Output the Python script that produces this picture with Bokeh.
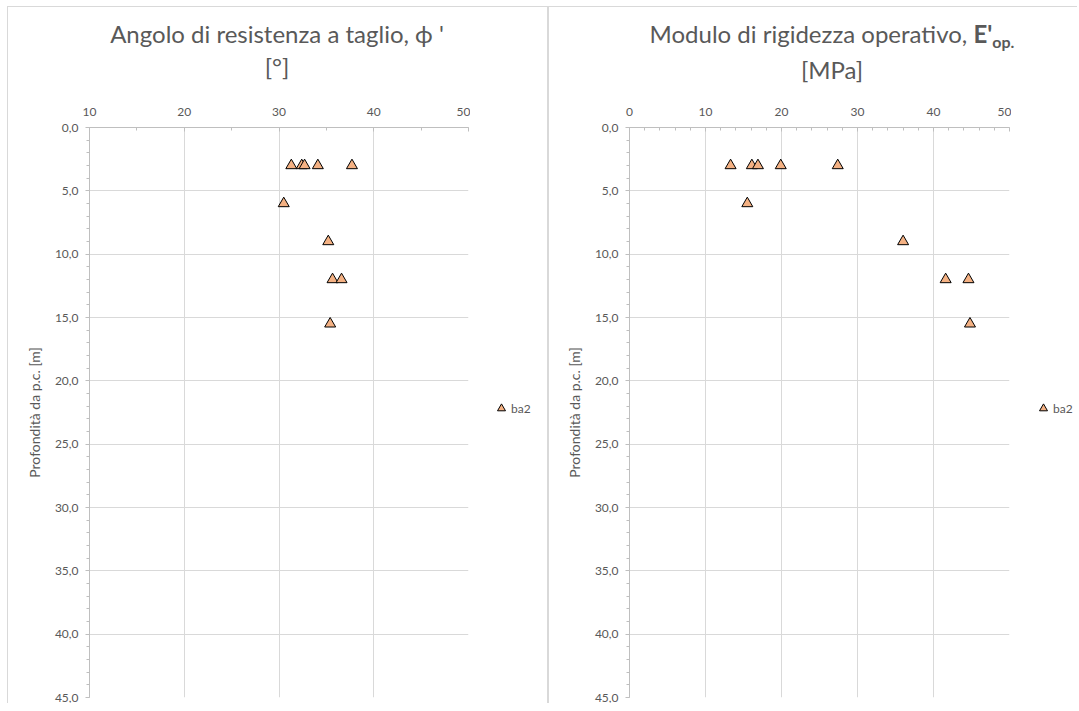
from bokeh.plotting import figure
from bokeh.models import Range1d, FixedTicker, Legend, LegendItem, ColumnDataSource, Div
from bokeh.layouts import row, column
from bokeh.embed import file_html
from bokeh.resources import INLINE

# ---------------- data ----------------
series_name = "ba2"
depth_phi = [3.0, 3.0, 3.0, 3.0, 3.0, 6.0, 9.0, 12.0, 12.0, 15.5]
phi_deg = [31.3, 32.4, 32.7, 34.1, 37.7, 30.5, 35.2, 35.65, 36.6, 35.4]
depth_E = [3.0, 3.0, 3.0, 3.0, 3.0, 6.0, 9.0, 12.0, 12.0, 15.5]
E_op = [13.3, 16.1, 16.9, 19.9, 27.4, 15.5, 36.0, 41.6, 44.6, 44.8]

y_ticks = [0, 5, 10, 15, 20, 25, 30, 35, 40, 45]
y_tick_labels = ["0,0", "5,0", "10,0", "15,0", "20,0", "25,0", "30,0", "35,0", "40,0", "45,0"]
y_minor = list(range(0, 46))
phi_ticks = [10, 20, 30, 40, 50]
phi_minor = [10, 15, 20, 25, 30, 35, 40, 45, 50]
E_ticks = [0, 10, 20, 30, 40, 50]
E_minor = list(range(0, 51, 2))

title_left = "Angolo di resistenza a taglio, \u03d5 '"
title_left_2 = "[\u00b0]"
title_right = "Modulo di rigidezza operativo, "
title_right_bold = "E'"
title_right_sub = "op."
title_right_2 = "[MPa]"
y_label = "Profondit\u00e0 da p.c. [m]"

FONT = "Lato"
TXT = "#595959"
AX = "#bfbfbf"
GRID = "#d9d9d9"
FILL = "#F4B183"
BORDER = "1px solid #d9d9d9"

TITLE_H = 84
CHART_H = 612


def make_chart(width, xr, ticks, minor, mbl, src):
    p = figure(width=width, height=CHART_H, x_range=Range1d(*xr), y_range=Range1d(45, 0),
               x_axis_location="above", toolbar_location=None, output_backend="svg",
               min_border_left=mbl, min_border_right=2, min_border_top=36,
               min_border_bottom=6, title=None)
    p.outline_line_color = None
    p.background_fill_color = "white"
    p.border_fill_color = "white"
    xa = p.xaxis[0]
    xa.ticker = FixedTicker(ticks=ticks, minor_ticks=minor)
    xa.axis_line_color = AX
    xa.major_tick_line_color = AX
    xa.minor_tick_line_color = AX
    xa.major_tick_in = 4
    xa.major_tick_out = 0
    xa.minor_tick_in = 3
    xa.minor_tick_out = 0
    xa.major_label_standoff = 12
    xa.major_label_text_font = FONT
    xa.major_label_text_font_size = "12px"
    xa.major_label_text_color = TXT
    ya = p.yaxis[0]
    ya.ticker = FixedTicker(ticks=y_ticks, minor_ticks=y_minor)
    ya.major_label_overrides = {t: l for t, l in zip(y_ticks, y_tick_labels)}
    ya.axis_line_color = AX
    ya.major_tick_line_color = AX
    ya.minor_tick_line_color = AX
    ya.major_tick_in = 0
    ya.major_tick_out = 4
    ya.minor_tick_in = 0
    ya.minor_tick_out = 3
    ya.major_label_standoff = 7
    ya.major_label_text_font = FONT
    ya.major_label_text_font_size = "12px"
    ya.major_label_text_color = TXT
    ya.axis_label = y_label
    ya.axis_label_text_font = FONT
    ya.axis_label_text_font_size = "14px"
    ya.axis_label_text_font_style = "normal"
    ya.axis_label_text_color = TXT
    ya.axis_label_standoff = 9
    p.xgrid.grid_line_color = GRID
    p.ygrid.grid_line_color = GRID
    p.scatter("x", "y", source=src, marker="triangle", size=11, fill_color=FILL,
              line_color="black", line_width=1)
    return p


def make_legend(width, x_off, src):
    # separate strip to the right of the plot area holding the series legend
    lf = figure(width=width, height=CHART_H, x_range=Range1d(-2, -1), y_range=Range1d(-2, -1),
                x_axis_type=None, y_axis_type=None, toolbar_location=None, output_backend="svg",
                min_border=0, title=None)
    lf.outline_line_color = None
    lf.background_fill_color = "white"
    lf.border_fill_color = "white"
    lf.grid.visible = False
    r = lf.scatter("x", "y", source=src, marker="triangle", size=11, fill_color=FILL,
                   line_color="black", line_width=1)
    leg = Legend(items=[LegendItem(label=series_name, renderers=[r])], location=(x_off, 279),
                 border_line_color=None, background_fill_alpha=0, padding=0, margin=0,
                 glyph_width=20, glyph_height=20, label_height=20, label_standoff=-4,
                 label_text_font=FONT, label_text_font_size="12px", label_text_color=TXT)
    lf.add_layout(leg, "center")
    return lf


def make_title(width, box_w, line1_html, line2):
    html = (
        f'<div style="position:relative;width:{width}px;height:{TITLE_H}px;'
        f'font-family:{FONT};font-size:24px;color:{TXT};">'
        f'<div style="position:absolute;left:0;top:10px;width:{box_w}px;text-align:center;'
        f'line-height:33px;white-space:nowrap;">{line1_html}<br>{line2}</div></div>'
    )
    return Div(text=html, width=width, height=TITLE_H, margin=(0, 0, 0, 0))


src_phi = ColumnDataSource(dict(x=phi_deg, y=depth_phi))
src_E = ColumnDataSource(dict(x=E_op, y=depth_E))

# ---------------- left chart ----------------
tl = make_title(539, 538, title_left, title_left_2)
pl = make_chart(462, (10, 50), phi_ticks, phi_minor, 81, src_phi)
ll = make_legend(539 - 462, 21, src_phi)
colL = column(tl, row(pl, ll), margin=(6, 0, 0, 7),
              styles={"border-top": BORDER, "border-left": BORDER, "border-right": BORDER})

# ---------------- right chart ----------------
line1_right = (f'{title_right}<b>{title_right_bold}</b>'
               f'<b style="font-size:16px;position:relative;top:5px;">{title_right_sub}</b>')
tr = make_title(528, 566, line1_right, title_right_2)
pr = make_chart(462, (0, 50), E_ticks, E_minor, 80, src_E)
lr = make_legend(528 - 462, 22, src_E)
colR = column(tr, row(pr, lr), margin=(6, 0, 0, 0),
              styles={"border-top": BORDER, "border-left": BORDER})

layout = row(colL, colR)
open("out.html", "w").write(file_html(layout, INLINE))
